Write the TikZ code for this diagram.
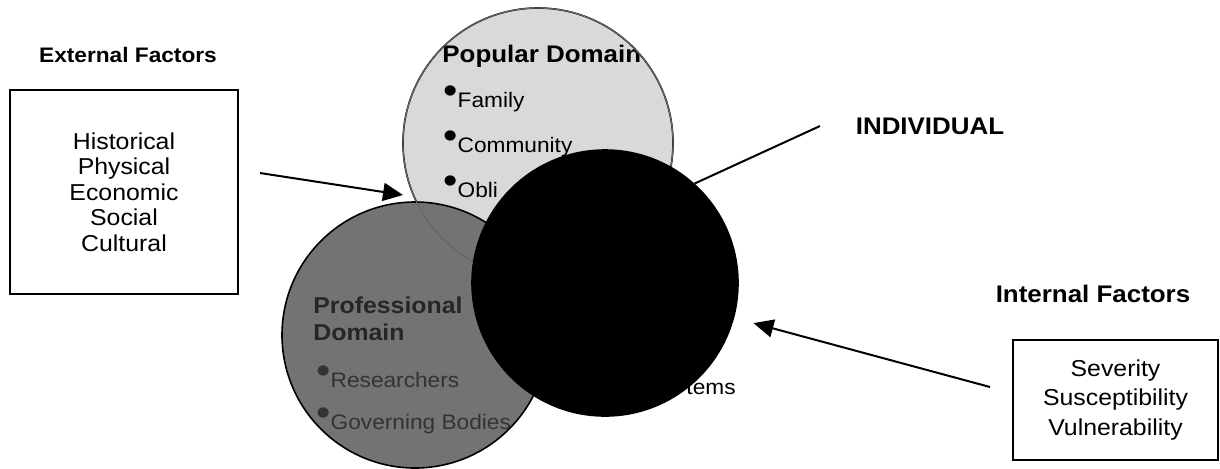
\documentclass[tikz,border=0pt]{standalone}
\usepackage{fontspec}
\setmainfont{Liberation Sans}[FakeStretch=1.08]
\usetikzlibrary{arrows.meta}
\newcommand{\bul}{\raisebox{1.6pt}{\scalebox{1.8}{\textbullet}}}

\begin{document}
\begin{tikzpicture}[x=0.5pt,y=-0.5pt,
  zone/.style={circle,draw,line width=0.8pt,inner sep=0pt},
  factor/.style={draw,line width=0.8pt,align=center,inner sep=0pt},
  head/.style={font=\fontsize{11.5}{13}\selectfont\bfseries,anchor=base west,inner sep=0pt},
  item/.style={font=\fontsize{10.5}{12}\selectfont,anchor=base west,inner sep=0pt},
  title/.style={font=\bfseries,inner sep=0pt},
  edge/.style={-{Triangle[length=10pt,width=9pt]},line width=1pt}]
\useasboundingbox (0,0) rectangle (1220,468);
\node[zone,fill=black!15,minimum size=135pt] (pop) at (538,143) {};
\begin{scope}
\clip (pop.center) circle[radius=67.5pt];
\node[head,font=\fontsize{12}{14}\selectfont\bfseries] (poptitle) at (442,62) {Popular Domain};
\node[item] (popa) at (443,107) {\bul Family};
\node[item] (popb) at (443,152) {\bul Community};
\node[item] (popc) at (443,197) {\bul Obli};
\end{scope}
\node[zone,fill=black!55,minimum size=133pt] (pro) at (415,335) {};
\draw[black!60,line width=0.6pt] (pop.center) circle[radius=67.5pt];
\node[head,text=black!85] (protitle) at (313,313) {Professional};
\node[head,text=black!85] (protitle2) at (313,340) {Domain};
\node[item,text=black!80] (proa) at (316,387) {\bul Researchers};
\node[item,text=black!80] (prob) at (316,429) {\bul Governing Bodies};
\node[zone,fill=black,minimum size=133pt] (indiv) at (605,283) {};
\node[item,anchor=base east] (indivc) at (736,394) {tems};
\node[title,font=\fontsize{12}{14}\selectfont\bfseries] (indivlabel) at (930,126) {INDIVIDUAL};
\coordinate (indivptr) at (820,126);
\draw[line width=1pt] (indiv.48)--(indivptr);
\node[title,font=\fontsize{10.5}{12}\selectfont\bfseries] (extlabel) at (128,55) {External Factors};
\node[factor,minimum width=114pt,minimum height=102pt,font=\fontsize{11.5}{12.75}\selectfont] (ext) at (124,192) {Historical\\Physical\\Economic\\Social\\Cultural};
\coordinate (exttail) at (260,173);
\coordinate (exthead) at (403,195);
\draw[edge] (exttail)--(exthead);
\node[title,font=\fontsize{12}{14}\selectfont\bfseries] (intlabel) at (1093,294) {Internal Factors};
\node[factor,minimum width=102.5pt,minimum height=60pt,font=\fontsize{11.5}{14.75}\selectfont] (int) at (1115.5,400) {Severity\\Susceptibility\\Vulnerability};
\coordinate (inttail) at (990,387);
\draw[edge,shorten >=10pt] (inttail)--(indiv);
\end{tikzpicture}
\end{document}
